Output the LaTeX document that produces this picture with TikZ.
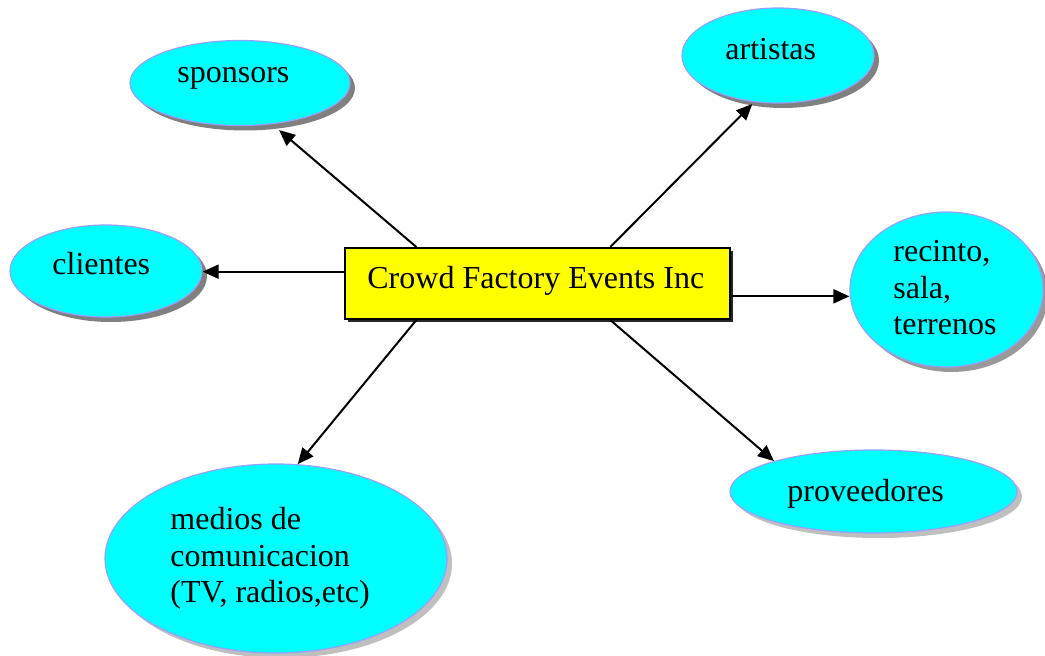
\documentclass[tikz,border=0pt]{standalone}
\usepackage{fontspec}
\setmainfont{Liberation Serif}
\usetikzlibrary{calc}
\usetikzlibrary{arrows.meta}
\usetikzlibrary{shapes.geometric}
\usetikzlibrary{shadows}
\definecolor{rim}{RGB}{150,160,255}
\definecolor{aqua}{RGB}{0,255,255}
\definecolor{lemon}{RGB}{255,255,0}

\begin{document}
\begin{tikzpicture}[x=.5pt,y=-.5pt,
  bubble/.style={ellipse, fill=aqua, draw=rim, line width=.6pt, inner sep=0pt,
    drop shadow={shadow xshift=2.5pt, shadow yshift=-2.5pt, fill=#1, opacity=1}},
  bubble/.default=black!50,
  txt/.style={inner sep=0pt, font=\fontsize{16}{18.3}\selectfont, align=left},
  link/.style={line width=1pt, -{Triangle[length=8pt,width=7pt]}}]
\useasboundingbox (0,0) rectangle (1045,656);
% centre box
\node[rectangle, fill=lemon, draw=black, line width=1pt, inner sep=0pt,
  minimum width=192.5pt, minimum height=35.5pt,
  drop shadow={shadow xshift=1.5pt, shadow yshift=-1.5pt, fill=black!85, opacity=1}]
  (cfe) at (537.5,283.5) {};
\node[txt, anchor=base west] (cfe-t) at (367,289) {Crowd Factory Events Inc};
% bubbles
\node[bubble, minimum width=110pt, minimum height=42.5pt] (spons) at (240,83) {};
\node[bubble, minimum width=96pt, minimum height=47.5pt] (art) at (778,55.5) {};
\node[bubble, minimum width=96pt, minimum height=46pt] (cli) at (106,271) {};
\node[bubble=black!40, minimum width=96.5pt, minimum height=77.5pt] (rec) at (946.5,289.5) {};
\node[bubble=black!25, minimum width=143.5pt, minimum height=41.5pt] (prov) at (873.5,491.5) {};
\node[bubble=black!25, minimum width=171pt, minimum height=94.5pt] (med) at (276,558.5) {};
\node[txt, anchor=base west] (spons-t) at (177,83) {sponsors};
\node[txt, anchor=base west] (art-t) at (725,60) {artistas};
\node[txt, anchor=base west] (cli-t) at (52,275) {clientes};
\node[txt, anchor=base west] (rec-t) at (893,335) {recinto,\\sala,\\terrenos};
\node[txt, anchor=base west] (prov-t) at (787,502) {proveedores};
\node[txt, anchor=base west] (med-t) at (170,603) {medios de\\comunicacion\\(TV, radios,etc)};
% arrows out of the box
\coordinate (cfe-tl) at ($(cfe.north west)!.187!(cfe.north east)$);
\coordinate (cfe-tr) at ($(cfe.north west)!.688!(cfe.north east)$);
\coordinate (cfe-bl) at ($(cfe.south west)!.187!(cfe.south east)$);
\coordinate (cfe-br) at ($(cfe.south west)!.688!(cfe.south east)$);
\coordinate (cfe-l) at ($(cfe.north west)!.338!(cfe.south west)$);
\coordinate (cfe-r) at ($(cfe.north east)!.676!(cfe.south east)$);
\draw[link, shorten >=4.5pt] (cfe-tl) -- (spons.-52);
\draw[link, shorten >=1.4pt] (cfe-tr) -- (art.-117);
\draw[link] (cfe-l) -- (cfe-l -| cli.east);
\draw[link] (cfe-r) -- (cfe-r -| rec.west);
\draw[link] (cfe-bl) -- (med.77);
\draw[link] (cfe-br) -- (prov.163);
\end{tikzpicture}
\end{document}
